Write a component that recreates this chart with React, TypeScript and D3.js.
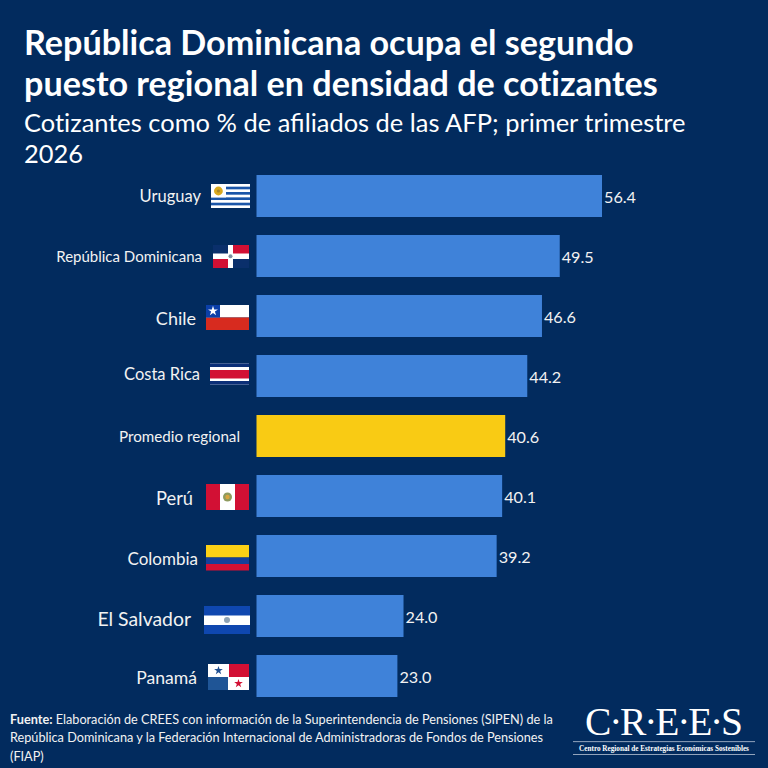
import { useEffect, useRef } from 'react';
import * as d3 from 'd3';

const categories = ['Uruguay', 'República Dominicana', 'Chile', 'Costa Rica', 'Promedio regional', 'Perú', 'Colombia', 'El Salvador', 'Panamá'];
const values = [56.4, 49.5, 46.6, 44.2, 40.6, 40.1, 39.2, 24.0, 23.0];
const labelSizes = [16.5, 15, 18, 16.5, 15.2, 18.3, 17, 19.4, 17.6];
const labelEnds = [201, 202, 196, 200, 240, 193, 198, 191, 197];
const labelNudges = [0, 1, 3, -2, 1, 2, 3, 3, 2];
const titleLines = ['República Dominicana ocupa el segundo', 'puesto regional en densidad de cotizantes'];
const subtitleLines = ['Cotizantes como % de afiliados de las AFP; primer trimestre', '2026'];
const sourceLines = [
  ' Elaboración de CREES con información de la Superintendencia de Pensiones (SIPEN) de la',
  'República Dominicana y la Federación Internacional de Administradoras de Fondos de Pensiones',
  '(FIAP)',
];

const NAVY = '#022b5e';
const BLUE = '#3f82d9';
const YELLOW = '#f9cb14';
const RED = '#d21034';

type G = d3.Selection<SVGGElement, unknown, null, undefined>;

const rect = (g: G, x: number, y: number, w: number, h: number, fill: string) =>
  g.append('rect').attr('x', x).attr('y', y).attr('width', w).attr('height', h).attr('fill', fill);

const star = (g: G, x: number, y: number, r: number, fill: string) =>
  g.append('path')
    .attr('d', d3.symbol(d3.symbolStar, r * r * 3)()!)
    .attr('transform', `translate(${x},${y})`)
    .attr('fill', fill);

// little flags, sized by hand from the picture
const flags: Record<string, (g: G) => void> = {
  Uruguay: g => {
    rect(g, 211, 184, 39, 24, '#fff');
    [1, 3, 5, 7].forEach(i => rect(g, 211, 184 + i * 2.67, 39, 2.67, '#1a55a8'));
    rect(g, 211, 184, 15, 13.4, '#fff');
    g.append('circle').attr('cx', 218.4).attr('cy', 191).attr('r', 4.4).attr('fill', '#d9a91f');
    g.append('circle').attr('cx', 218.4).attr('cy', 191).attr('r', 1.6).attr('fill', '#a8862a');
  },
  'República Dominicana': g => {
    rect(g, 213, 245, 36, 23, '#fff');
    rect(g, 233, 245, 16, 8.5, RED);
    rect(g, 213, 259, 15, 9, RED);
    rect(g, 213, 245, 15, 8.5, '#0a2f6b');
    rect(g, 233, 259, 16, 9, '#0a2f6b');
    g.append('circle').attr('cx', 230.5).attr('cy', 256.2).attr('r', 2).attr('fill', '#7f8f9f');
  },
  Chile: g => {
    rect(g, 206, 305, 43, 12.5, '#fff');
    rect(g, 206, 317.5, 43, 12.5, '#d72b1f');
    rect(g, 206, 305, 14, 12.5, '#0b3fa8');
    star(g, 213, 311, 3.2, '#fff');
  },
  'Costa Rica': g => {
    rect(g, 210, 363.5, 39, 21, '#fff');
    rect(g, 210, 363.5, 39, 3.5, '#0b2f78');
    rect(g, 210, 381, 39, 3.5, '#0b2f78');
    rect(g, 210, 370, 39, 8.5, RED);
  },
  Perú: g => {
    rect(g, 206, 484, 43, 26, RED);
    rect(g, 220, 484, 15, 26, '#fff');
    g.append('circle').attr('cx', 227.5).attr('cy', 497).attr('r', 4.5).attr('fill', '#8f9b5f');
    g.append('circle').attr('cx', 227.5).attr('cy', 497).attr('r', 2.2).attr('fill', '#d9a640');
  },
  Colombia: g => {
    rect(g, 206, 545, 43, 12.5, '#fcd116');
    rect(g, 206, 557.5, 43, 6.5, '#14409a');
    rect(g, 206, 564, 43, 6.5, RED);
  },
  'El Salvador': g => {
    rect(g, 204, 606, 46, 28, '#0f47af');
    rect(g, 204, 615.5, 46, 9.5, '#fff');
    g.append('circle').attr('cx', 227).attr('cy', 620).attr('r', 3).attr('fill', '#8fa3b5');
  },
  Panamá: g => {
    rect(g, 208, 664, 41, 26, '#fff');
    rect(g, 229, 664, 20, 13, RED);
    rect(g, 208, 677, 20, 13, '#1f5596');
    star(g, 218.5, 670.5, 2.8, '#1f4f91');
    star(g, 238.5, 683.5, 2.8, RED);
  },
};

// the picture has no "ti" ligature but keeps "fi"
const addWords = (sel: d3.Selection<SVGTextElement, unknown, null, undefined>, s: string) => {
  s.split(/(\S*ti\S*)/).filter(Boolean).forEach(part => {
    const span = sel.append('tspan').text(part);
    if (part.includes('ti')) span.style('font-variant-ligatures', 'none');
  });
};

const App = () => {
  const chartRef = useRef<SVGSVGElement | null>(null);

  useEffect(() => {
    if (!chartRef.current) return;
    const svg = d3.select(chartRef.current);
    svg.selectAll('*').remove();

    const x = d3.scaleLinear().domain([0, 56.4]).range([256.5, 602]);
    const y = d3.scaleBand<string>().domain(categories).range([175, 697]).paddingInner(0.3).paddingOuter(0);
    const bandH = y.bandwidth();

    svg.append('rect').attr('width', 768).attr('height', 768).attr('fill', NAVY);

    const title = svg.append('g').attr('fill', '#fff').attr('font-family', 'Lato').attr('xml:space', 'preserve');
    titleLines.forEach((t, i) => {
      const line = title.append('text').attr('x', 24).attr('y', 54.5 + i * 41)
        .attr('font-size', 34.15).attr('font-weight', 700);
      addWords(line, t);
    });
    subtitleLines.forEach((t, i) => {
      const line = title.append('text').attr('x', 24).attr('y', 131.5 + i * 31)
        .attr('font-size', 25.45);
      addWords(line, t);
    });

    const rows = svg.append('g').attr('font-family', 'Lato');
    categories.forEach((c, i) => {
      const top = y(c)!;
      rows.append('rect')
        .attr('x', x(0)).attr('y', top)
        .attr('width', x(values[i]) - x(0)).attr('height', bandH)
        .attr('fill', c === 'Promedio regional' ? YELLOW : BLUE);
      rows.append('text')
        .attr('x', x(values[i]) + 2).attr('y', top + 22).attr('dy', '0.36em')
        .attr('font-size', 16.2).attr('fill', '#f2f2f2')
        .text(d3.format('.1f')(values[i]));
      rows.append('text')
        .attr('x', labelEnds[i]).attr('y', top + 21 + labelNudges[i]).attr('dy', '0.36em')
        .attr('text-anchor', 'end')
        .attr('font-size', labelSizes[i]).attr('fill', '#f2f2f2')
        .text(c);
      const flag = flags[c];
      if (flag) flag(svg.append('g') as unknown as G);
    });

    const src = svg.append('g').attr('font-family', 'Lato').attr('font-size', 12.7).attr('fill', '#f2f2f2');
    sourceLines.forEach((t, i) => {
      const line = src.append('text').attr('x', 10).attr('y', 723.5 + i * 18.5);
      if (i === 0) line.append('tspan').attr('font-weight', 700).text('Fuente:');
      line.append('tspan').attr('xml:space', 'preserve').text(t);
    });

    const logo = svg.append('g').attr('fill', '#fff');
    logo.append('text').attr('x', 585).attr('y', 735).attr('textLength', 158).attr('lengthAdjust', 'spacing')
      .attr('font-family', 'Liberation Serif').attr('font-size', 39.5).text('C·R·E·E·S');
    logo.append('rect').attr('x', 573).attr('y', 741.3).attr('width', 182).attr('height', 0.8).attr('fill', '#b8c4d4');
    logo.append('rect').attr('x', 573).attr('y', 754).attr('width', 182).attr('height', 0.8).attr('fill', '#b8c4d4');
    logo.append('text').attr('x', 664).attr('y', 751).attr('text-anchor', 'middle')
      .attr('font-family', 'Liberation Serif').attr('font-weight', 700).attr('font-size', 7.2)
      .text('Centro Regional de Estrategias Económicas Sostenibles');
  }, []);

  return <svg ref={chartRef} width={768} height={768} style={{ position: 'absolute', left: 0, top: 0 }} />;
};

export default App;
